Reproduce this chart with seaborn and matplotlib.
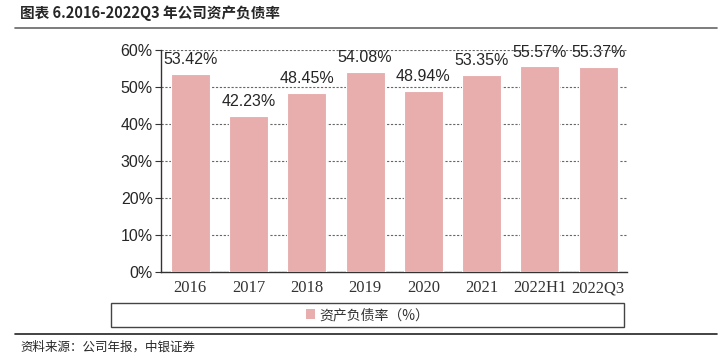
import numpy as np
import pandas as pd
import matplotlib
matplotlib.use('Agg')
import matplotlib.pyplot as plt
import seaborn as sns
from matplotlib.lines import Line2D
from matplotlib.patches import Patch, Rectangle

# Data
periods = ['2016', '2017', '2018', '2019', '2020', '2021', '2022H1', '2022Q3']
debt_ratio = [53.42, 42.23, 48.45, 54.08, 48.94, 53.35, 55.57, 55.37]
y_ticks = [0, 10, 20, 30, 40, 50, 60]

BAR_COLOR = '#E8AEAE'
CJK = ['Noto Sans CJK SC', 'DejaVu Sans']

sns.set_style('white')
plt.rcParams['font.family'] = ['Liberation Sans', 'Noto Sans CJK SC']

df = pd.DataFrame({'period': periods, 'ratio': debt_ratio})

fig = plt.figure(figsize=(7.26, 3.63), dpi=100)
ax = fig.add_axes([0.222, 0.251, 0.642, 0.611])

sns.barplot(data=df, x='period', y='ratio', color=BAR_COLOR, width=0.67,
            saturation=1, edgecolor='white', linewidth=0.8, ax=ax, zorder=3)

ax.set_ylim(0, 60)
ax.set_xlim(-0.5, len(periods) - 0.5)
ax.set_yticks(y_ticks)
ax.set_yticklabels([f'{v}%' for v in y_ticks], fontsize=11.5)
ax.yaxis.grid(True, linestyle=(0, (2, 1.5)), color='#666666', linewidth=0.8, zorder=0)
ax.set_xlabel('')
ax.set_ylabel('')

# category labels in serif, ticks at category boundaries
ax.set_xticks(np.arange(len(periods)))
ax.set_xticklabels(periods, family='Liberation Serif', fontsize=12, color='#333333')
ax.tick_params(axis='x', length=0, pad=6)
ax.set_xticks(np.arange(-0.5, len(periods)), minor=True)
ax.tick_params(axis='x', which='minor', length=4, direction='out', color='#333333')
ax.tick_params(axis='y', length=4, direction='out', color='#333333', pad=2, left=True)

for side in ['top', 'right']:
    ax.spines[side].set_visible(False)
for side in ['left', 'bottom']:
    ax.spines[side].set_color('#333333')
    ax.spines[side].set_linewidth(1)

for i, v in enumerate(debt_ratio):
    ax.annotate(f'{v:.2f}%', (i, v), xytext=(0, 5), textcoords='offset points',
                ha='center', va='bottom', fontsize=11.5, zorder=5)

# legend box
lx0, ly0, lw, lh = 111 / 726, 1 - 327 / 363, 513 / 726, 24 / 363
fig.add_artist(Rectangle((lx0, ly0), lw, lh, transform=fig.transFigure,
                         facecolor='white', edgecolor='#444444', linewidth=1))
leg = fig.legend(handles=[Patch(facecolor=BAR_COLOR, edgecolor='none')],
                 labels=['资产负债率（%）'], loc='center',
                 bbox_to_anchor=(lx0 + lw / 2, ly0 + lh / 2),
                 frameon=False, handlelength=0.7, handleheight=0.7,
                 handletextpad=0.3, borderpad=0.2,
                 prop={'family': CJK, 'size': 10})
for t in leg.get_texts():
    t.set_color('#333333')

# title and source
fig.text(20 / 726, 1 - 13 / 363, '图表 6.2016-2022Q3 年公司资产负债率', family=CJK,
         fontsize=10.5, fontweight='bold', va='center', ha='left')
fig.add_artist(Line2D([15 / 726, 717 / 726], [1 - 28 / 363] * 2, color='#666666', lw=1.2))
fig.add_artist(Line2D([15 / 726, 717 / 726], [1 - 334 / 363] * 2, color='#222222', lw=1.2))
fig.text(20 / 726, 1 - 347 / 363, '资料来源：公司年报，中银证券', family=CJK,
         fontsize=9, style='italic', va='center', ha='left')

fig.savefig('out.png', dpi=100)
